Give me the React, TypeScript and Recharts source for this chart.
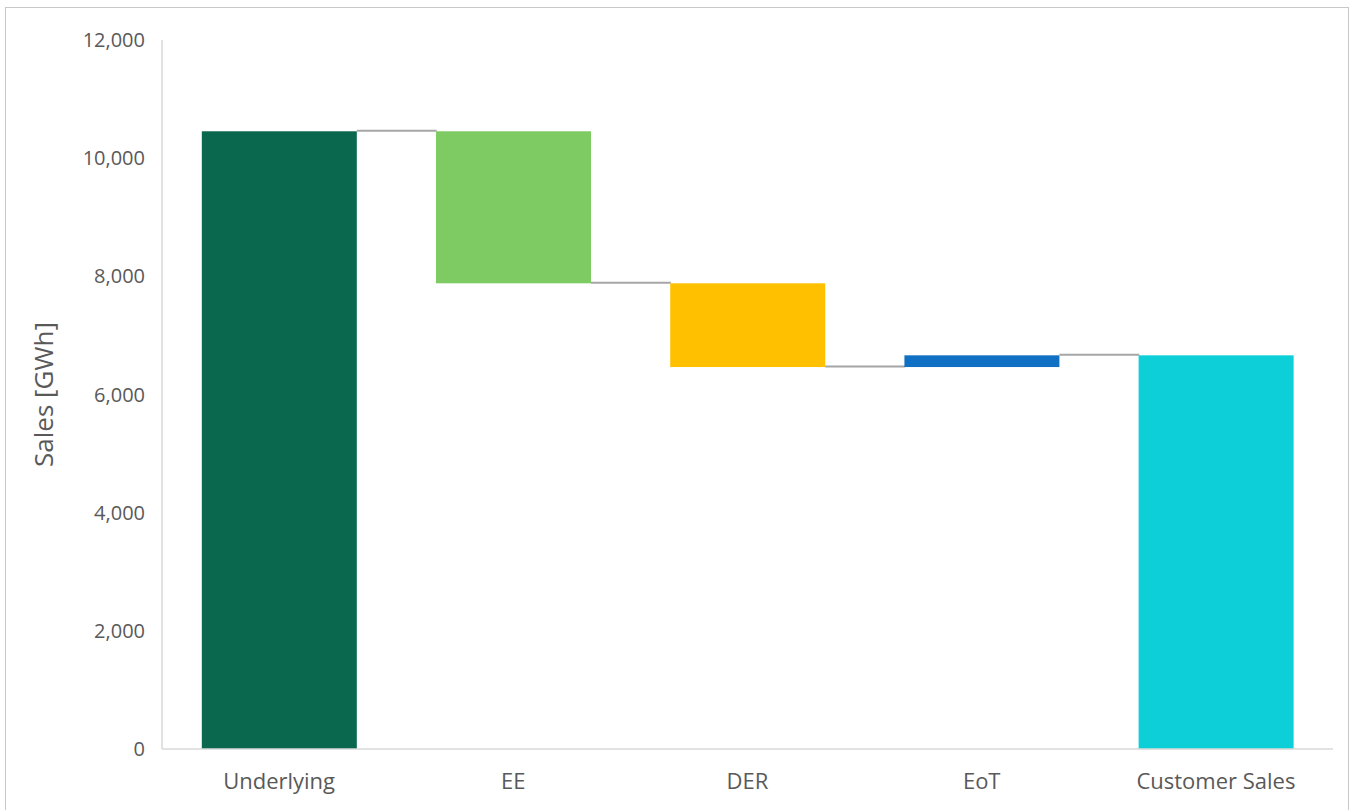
import React from 'react';
import { BarChart, Bar, XAxis, YAxis, Cell, Label } from 'recharts';

const categories = ['Underlying', 'EE', 'DER', 'EoT', 'Customer Sales'];
const startValue = 10455;
const changes = [-2573, -1417, 198];
const colors = ['#0a684e', '#7ecb63', '#ffc000', '#0f70c4', '#0ccfd8'];
const yTicks = [0, 2000, 4000, 6000, 8000, 10000, 12000];

const GAP = 0.17;
const FONT = '"Open Sans", "Noto Sans", sans-serif';
const TEXT = '#595959';

type Row = { name: string; range: [number, number]; end: number; last: boolean };

const rows: Row[] = (() => {
  const out: Row[] = [];
  out.push({ name: categories[0], range: [0, startValue], end: startValue, last: false });
  let cur = startValue;
  changes.forEach((c, i) => {
    const next = cur + c;
    out.push({
      name: categories[i + 1],
      range: [Math.min(cur, next), Math.max(cur, next)],
      end: next,
      last: false,
    });
    cur = next;
  });
  out.push({ name: categories[categories.length - 1], range: [0, cur], end: cur, last: true });
  return out;
})();

const WaterfallShape = (props: any) => {
  const { x, y, width, height, fill, payload } = props;
  const top = Math.min(y, y + height);
  const h = Math.abs(height);
  const bottom = top + h;
  const endY = payload.end === payload.range[1] ? top : bottom;
  const gapLen = (width * (2 * GAP)) / (1 - 2 * GAP);
  return (
    <g>
      <rect x={x} y={top} width={width} height={h} fill={fill} />
      {!payload.last && (
        <line
          x1={x + width}
          x2={x + width + gapLen}
          y1={endY - 0.5}
          y2={endY - 0.5}
          stroke="#a6a6a6"
          strokeWidth={2}
        />
      )}
    </g>
  );
};

const fmt = (v: number) => v.toLocaleString('en-US');

export default function App() {
  return (
    <div
      style={{
        position: 'absolute',
        left: 5,
        top: 7,
        width: 1344,
        height: 803,
        boxSizing: 'border-box',
        borderTop: '1px solid #c8c8c8',
        borderLeft: '1px solid #c8c8c8',
        borderRight: '1px solid #c8c8c8',
        background: '#fff',
      }}
    >
      <BarChart
        width={1342}
        height={802}
        data={rows}
        margin={{ top: 32, right: 15, left: 0, bottom: 21 }}
        barCategoryGap={`${GAP * 100}%`}
      >
        <XAxis
          dataKey="name"
          height={40}
          tickLine={false}
          tickSize={0}
          tickMargin={24}
          axisLine={{ stroke: '#d9d9d9', strokeWidth: 1.5 }}
          tick={{ fill: TEXT, fontSize: 22, fontFamily: FONT }}
          interval={0}
        />
        <YAxis
          width={156}
          domain={[0, 12000]}
          ticks={yTicks}
          tickFormatter={fmt}
          tickLine={false}
          tickSize={0}
          tickMargin={17}
          axisLine={{ stroke: '#d9d9d9', strokeWidth: 1.5 }}
          tick={{ fill: TEXT, fontSize: 20, fontFamily: FONT }}
        >
          <Label
            content={(p: any) => {
              const vb = p.viewBox;
              const cx = vb.x + 37;
              const cy = vb.y + vb.height / 2;
              return (
                <text
                  x={cx}
                  y={cy}
                  transform={`rotate(-90 ${cx} ${cy})`}
                  textAnchor="middle"
                  dominantBaseline="central"
                  fill={TEXT}
                  fontSize={26}
                  fontFamily={FONT}
                >
                  Sales [GWh]
                </text>
              );
            }}
          />
        </YAxis>
        <Bar dataKey="range" isAnimationActive={false} shape={WaterfallShape}>
          {rows.map((r, i) => (
            <Cell key={r.name} fill={colors[i]} />
          ))}
        </Bar>
      </BarChart>
    </div>
  );
}
